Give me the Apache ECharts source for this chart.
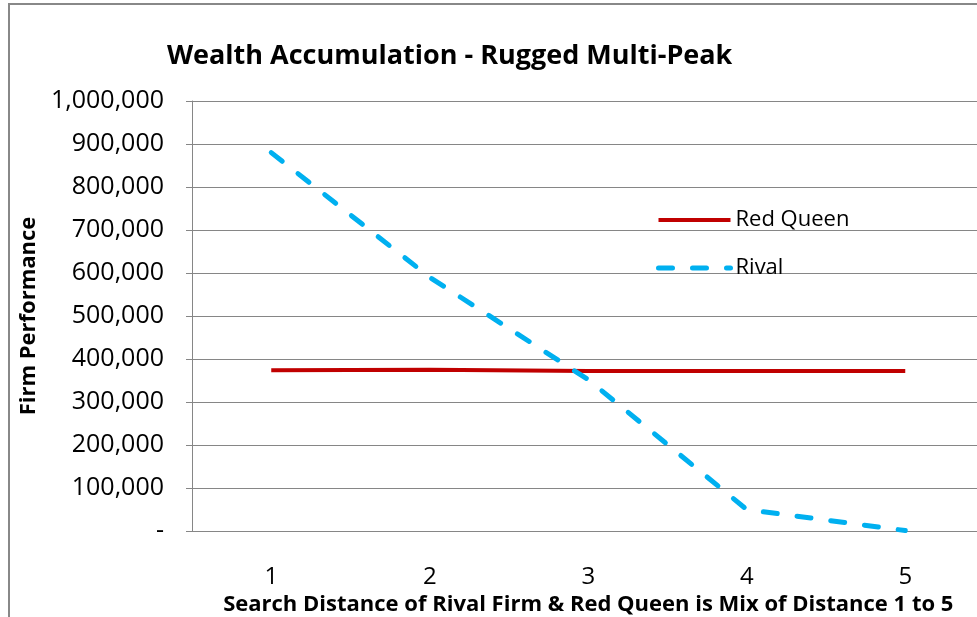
<!DOCTYPE html>
<html>
<head>
    <meta charset="utf-8" />
    <script src="https://cdn.jsdelivr.net/npm/echarts@6/dist/echarts.min.js"></script>
    <title></title>
    <style>
        body { margin: 0; background: #fff; }
        #main { width: 977px; height: 617px; }
    </style>
</head>
<body>
    <div id="main"></div>
    <script type="text/javascript">
        // data
        var distances = ['1', '2', '3', '4', '5'];
        var redQueen = [374000, 375000, 372000, 372000, 372000];
        var rival = [880000, 590000, 352000, 50000, 1000];
        var yTickLabels = ['-', '100,000', '200,000', '300,000', '400,000', '500,000',
                           '600,000', '700,000', '800,000', '900,000', '1,000,000'];

        var myChart = echarts.init(document.getElementById('main'));
        var font = '"Open Sans", sans-serif';
        var redLine = { color: '#C00000', width: 4 };
        var blueLine = { color: '#00B0F0', width: 5, type: [14, 20], cap: 'round' };

        var option = {
            backgroundColor: '#fff',
            animation: false,
            title: {
                text: 'Wealth Accumulation - Rugged Multi-Peak',
                left: 162,
                top: 38,
                textStyle: { fontFamily: font, fontSize: 27, fontWeight: 'bold', color: '#000' }
            },
            legend: {
                orient: 'vertical',
                left: 651,
                top: 204,
                itemWidth: 72,
                itemHeight: 14,
                itemGap: 26,
                itemStyle: { opacity: 0 },
                textStyle: { fontFamily: font, fontSize: 22, color: '#000' },
                data: [
                    { name: 'Red Queen', lineStyle: redLine },
                    { name: 'Rival', lineStyle: blueLine }
                ]
            },
            graphic: [{
                type: 'rect',
                shape: { x: 9, y: 4, width: 1100, height: 800 },
                style: { fill: 'none', stroke: '#888', lineWidth: 2 },
                silent: true
            }],
            grid: { left: 192, top: 101, width: 792.5, height: 430, outerBoundsMode: 'none' },
            xAxis: {
                type: 'category',
                data: distances,
                name: 'Search Distance of Rival Firm & Red Queen is Mix of Distance 1 to 5',
                nameLocation: 'middle',
                nameGap: 62,
                nameTextStyle: { fontFamily: font, fontSize: 22, fontWeight: 'bold', color: '#000' },
                axisLine: { lineStyle: { color: '#868686', width: 1 } },
                axisTick: { length: 8, lineStyle: { color: '#868686' } },
                axisLabel: { margin: 34, fontFamily: font, fontSize: 24, color: '#000' }
            },
            yAxis: {
                type: 'value',
                min: 0,
                max: 1000000,
                interval: 100000,
                name: 'Firm Performance',
                nameLocation: 'middle',
                nameGap: 143,
                nameTextStyle: { fontFamily: font, fontSize: 22, fontWeight: 'bold', color: '#000' },
                axisLine: { show: true, lineStyle: { color: '#868686', width: 1 } },
                axisTick: { show: true, length: 6, lineStyle: { color: '#868686' } },
                splitLine: { lineStyle: { color: '#868686', width: 1 } },
                axisLabel: {
                    margin: 28,
                    fontFamily: font,
                    fontSize: 25,
                    color: '#000',
                    formatter: function (v) { return yTickLabels[Math.round(v / 100000)]; }
                }
            },
            series: [
                {
                    name: 'Red Queen',
                    type: 'line',
                    data: redQueen,
                    symbol: 'none',
                    color: '#C00000',
                    lineStyle: redLine
                },
                {
                    name: 'Rival',
                    type: 'line',
                    data: rival,
                    symbol: 'none',
                    color: '#00B0F0',
                    lineStyle: blueLine
                }
            ]
        };
        myChart.setOption(option);
    </script>
</body>
</html>
